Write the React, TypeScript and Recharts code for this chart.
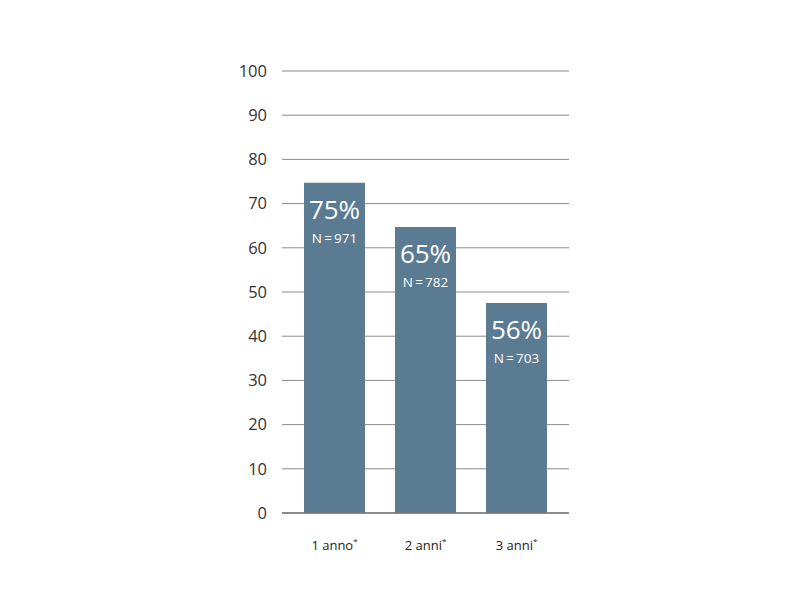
import React from "react";
import { BarChart, Bar, XAxis, YAxis, CartesianGrid, LabelList, ReferenceLine } from "recharts";

const categories = ["1 anno", "2 anni", "3 anni"];
const heights = [74.7, 64.7, 47.5];
const percentLabels = ["75%", "65%", "56%"];
const nLabels = ["N\u2009=\u2009971", "N\u2009=\u2009782", "N\u2009=\u2009703"];
const yTicks = [0, 10, 20, 30, 40, 50, 60, 70, 80, 90, 100];

const data = categories.map((c, i) => ({
  name: c,
  value: heights[i],
  pct: percentLabels[i],
  n: nLabels[i],
}));

const FONT = "'Open Sans', 'Noto Sans', sans-serif";

const InsideLabel = (props: any) => {
  const { x, y, width, index } = props;
  const cx = x + width / 2;
  return (
    <g>
      <text x={cx} y={y + 36} textAnchor="middle" fill="#fff" fontSize={26} fontFamily={FONT}>
        {percentLabels[index]}
      </text>
      <text x={cx} y={y + 60} textAnchor="middle" fill="#fff" fontSize={13.5} fontFamily={FONT}>
        {nLabels[index]}
      </text>
    </g>
  );
};

const XTick = (props: any) => {
  const { x, y, payload } = props;
  return (
    <text x={x} y={y + 21} textAnchor="middle" fill="#222" fontSize={13} fontFamily={FONT}>
      {payload.value}
      <tspan dy={-6} fontSize={8}>*</tspan>
    </text>
  );
};

export default function App() {
  return (
    <BarChart
      width={784}
      height={600}
      data={data}
      margin={{ top: 63, right: 223, bottom: 65, left: 214 }}
    >
      <CartesianGrid vertical={false} stroke="#8a8a8a" strokeWidth={1} />
      <XAxis
        dataKey="name"
        axisLine={false}
        tickLine={false}
        height={30}
        tick={<XTick />}
        tickMargin={10}
        padding={{ left: 7, right: 7 }}
      />
      <YAxis
        domain={[0, 100]}
        ticks={yTicks}
        width={60}
        axisLine={false}
        tickLine={false}
        tickMargin={9}
        tick={{ fill: "#333", fontSize: 16.5, fontFamily: FONT }}
      />
      <Bar dataKey="value" fill="#5a7b92" barSize={61} isAnimationActive={false}>
        <LabelList dataKey="pct" content={<InsideLabel />} />
      </Bar>
      <ReferenceLine y={0} stroke="#777" strokeWidth={1.5} />
    </BarChart>
  );
}
